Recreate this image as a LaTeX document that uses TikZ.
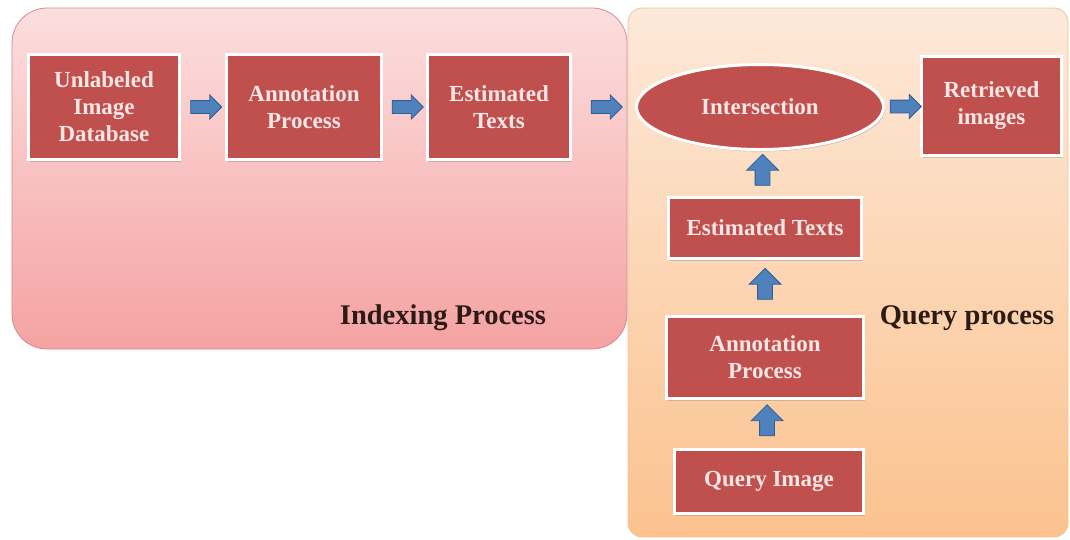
\documentclass[tikz,border=0pt]{standalone}
\usepackage{fontspec}
\setmainfont{Liberation Serif}
\usetikzlibrary{positioning, calc, shapes.geometric, shapes.arrows, shadows}

\definecolor{boxred}{RGB}{192,80,77}
\definecolor{boxtext}{RGB}{250,230,228}
\definecolor{arrowblue}{RGB}{79,129,189}
\definecolor{arrowedge}{RGB}{44,93,147}
\definecolor{pinktop}{RGB}{252,222,222}
\definecolor{pinkbot}{RGB}{245,162,162}
\definecolor{pinkedge}{RGB}{210,140,140}
\definecolor{peachtop}{RGB}{253,233,218}
\definecolor{peachbot}{RGB}{251,194,142}
\definecolor{peachedge}{RGB}{238,196,160}
\definecolor{labeltext}{RGB}{43,27,23}

\begin{document}
\begin{tikzpicture}[
    x=1pt, y=-1pt,
    font=\bfseries,
    proc/.style={rectangle, fill=boxred, draw=white, line width=3pt, text=boxtext, align=center,
        font=\bfseries\fontsize{23}{27}\selectfont, inner sep=2pt,
        drop shadow={shadow xshift=1.5pt, shadow yshift=-2pt, opacity=0.35}},
    isect/.style={ellipse, fill=boxred, draw=white, line width=3pt, text=boxtext, inner sep=0pt,
        font=\bfseries\fontsize{23}{27}\selectfont, minimum width=247pt, minimum height=85pt,
        drop shadow={shadow xshift=1.5pt, shadow yshift=-2pt, opacity=0.35}},
    rarrow/.style={single arrow, fill=arrowblue, draw=arrowedge, line width=0.8pt,
        inner xsep=0pt, inner ysep=6pt, minimum width=23pt, minimum height=31pt,
        single arrow head extend=5.5pt},
    uarrow/.style={rarrow, rotate=90, inner ysep=7pt, minimum width=31pt,
        minimum height=31pt, single arrow head extend=8.5pt},
    panellabel/.style={text=labeltext, font=\bfseries\fontsize{28.5}{32}\selectfont}
]
\useasboundingbox (0,0) rectangle (1070,539);

% Panels
\draw[rounded corners=14pt, top color=peachtop, bottom color=peachbot, draw=peachedge, line width=0.8pt]
    (628,8) rectangle (1068,537);
\draw[rounded corners=35pt, top color=pinktop, bottom color=pinkbot, draw=pinkedge, line width=0.8pt]
    (12,8) rectangle (627,349);

% Indexing process
\node[proc, minimum width=151pt, minimum height=105pt] (db)  at (104,107) {Unlabeled\\Image\\Database};
\node[proc, minimum width=155pt, minimum height=105pt] (ann) at (304,107) {Annotation\\Process};
\node[proc, minimum width=143pt, minimum height=105pt] (est) at (499,107) {Estimated\\Texts};
\node[panellabel] (idxlabel) at (443,318) {Indexing Process};

% Query process
\node[isect] (inter) at (760,107) {Intersection};
\node[proc, minimum width=140pt, minimum height=99pt] (ret) at (991.5,106) {Retrieved\\images};
\node[proc, minimum width=193pt, minimum height=61pt] (qest) at (765,228) {Estimated Texts};
\node[proc, minimum width=197pt, minimum height=82pt] (qann) at (765,357.5) {Annotation\\Process};
\node[proc, minimum width=189pt, minimum height=64pt] (qimg) at (769,481.5) {Query Image};
\node[panellabel] (qlabel) at (967,318) {Query process};

% Block arrows
\node[rarrow] (a1) at ($(db.east)!0.5!(ann.west)$) {};
\node[rarrow] (a2) at ($(ann.east)!0.5!(est.west)$) {};
\node[rarrow] (a3) at ($(est.east)!0.5!(inter.west)$) {};
\node[rarrow] (a4) at ($(inter.east)!0.5!(ret.west)$) {};
\node[uarrow] (u1) at ($(qest.north)!0.5!(inter.south)$) {};
\node[uarrow] (u2) at ($(qann.north)!0.5!(qest.south)$) {};
\node[uarrow] (u3) at ($(qimg.north)!0.5!(qann.south)$) {};

\end{tikzpicture}
\end{document}
